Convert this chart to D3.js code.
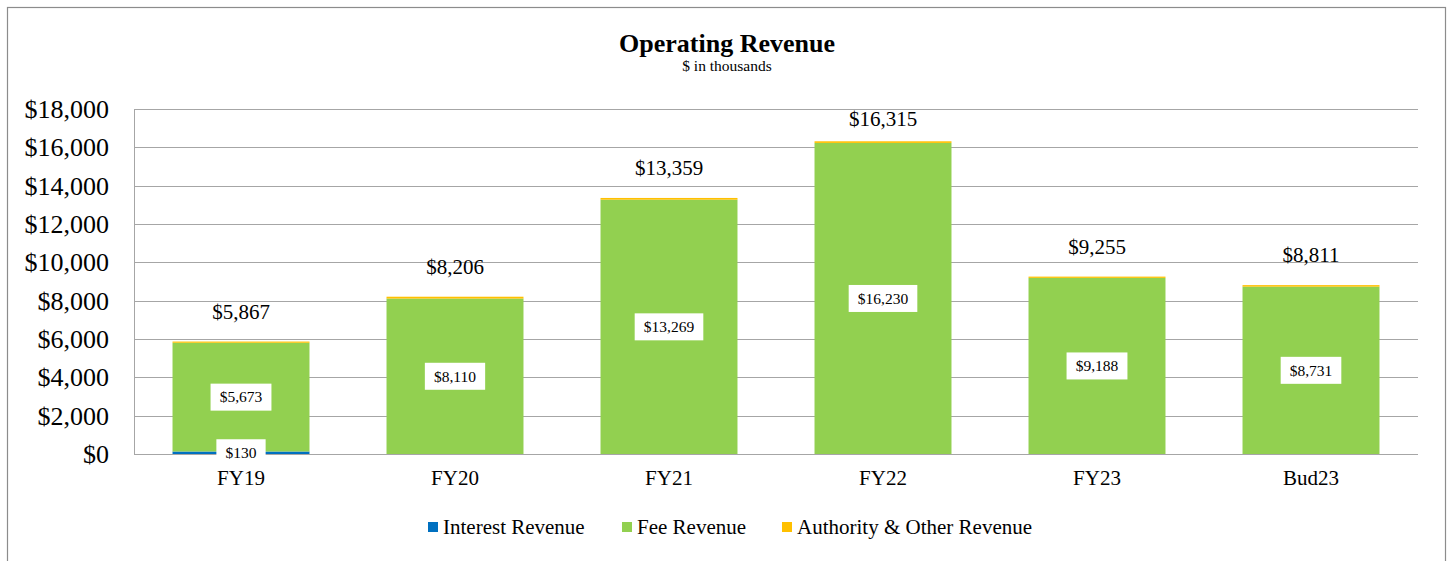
<!DOCTYPE html>
<html>
  <head>
    <meta charset="UTF-8" />
    <title>Operating Revenue</title>
    <script src="https://d3js.org/d3.v7.min.js"></script>
    <style>
      body { margin: 0; background: #fff; }
      text { font-family: 'Liberation Serif', 'Times New Roman', serif; fill: #000; }
      .grid line { stroke: #a6a6a6; stroke-width: 1px; }
    </style>
  </head>
  <body>
    <svg id="chart" width="1448" height="561"></svg>

    <script>
      // chart data ($ in thousands)
      var categories = ['FY19', 'FY20', 'FY21', 'FY22', 'FY23', 'Bud23'];
      var interestRevenue = [130, 0, 0, 0, 0, 0];
      var feeRevenue = [5673, 8110, 13269, 16230, 9188, 8731];
      var authorityRevenue = [64, 96, 90, 85, 67, 80];
      var totals = [5867, 8206, 13359, 16315, 9255, 8811];
      var yTicks = [0, 2000, 4000, 6000, 8000, 10000, 12000, 14000, 16000, 18000];

      var seriesNames = ['Interest Revenue', 'Fee Revenue', 'Authority & Other Revenue'];
      var seriesKeys = ['interest', 'fee', 'authority'];
      var colors = ['#0070c0', '#92d050', '#ffc000'];

      var rows = categories.map(function (c, i) {
        return { cat: c, interest: interestRevenue[i], fee: feeRevenue[i], authority: authorityRevenue[i], total: totals[i] };
      });

      var svg = d3.select('#chart');
      var plot = { left: 134, right: 1418, top: 109, bottom: 454 };

      // outer border
      svg.append('rect')
        .attr('x', 7.5).attr('y', 7.5)
        .attr('width', 1438).attr('height', 600)
        .attr('fill', 'none').attr('stroke', '#8c8c8c').attr('stroke-width', 1.2);

      // title
      svg.append('text').attr('x', 727).attr('y', 52)
        .attr('text-anchor', 'middle').style('font-size', '26px').style('font-weight', 'bold')
        .text('Operating Revenue');
      svg.append('text').attr('x', 727).attr('y', 71)
        .attr('text-anchor', 'middle').style('font-size', '15.5px')
        .text('$ in thousands');

      var x = d3.scaleBand()
        .domain(categories)
        .range([plot.left, plot.right])
        .paddingInner(0.36)
        .paddingOuter(0.18);

      var y = d3.scaleLinear().domain([0, 18000]).range([plot.bottom, plot.top]);

      // gridlines
      svg.append('g').attr('class', 'grid')
        .selectAll('line').data(yTicks).enter().append('line')
        .attr('x1', plot.left).attr('x2', plot.right)
        .attr('y1', function (d) { return Math.round(y(d)) + 0.5; })
        .attr('y2', function (d) { return Math.round(y(d)) + 0.5; });

      // y axis line
      svg.append('line')
        .attr('x1', plot.left + 0.5).attr('x2', plot.left + 0.5)
        .attr('y1', plot.top).attr('y2', plot.bottom)
        .attr('stroke', '#a6a6a6');

      // y tick labels
      svg.append('g').selectAll('text').data(yTicks).enter().append('text')
        .attr('x', plot.left - 25)
        .attr('y', function (d) { return y(d); })
        .attr('dy', '0.34em')
        .attr('text-anchor', 'end')
        .style('font-size', '26px')
        .text(function (d) { return d3.format('$,')(d); });

      // stacked bars
      var stack = d3.stack().keys(seriesKeys)(rows);
      svg.append('g').selectAll('g').data(stack).enter().append('g')
        .attr('fill', function (d, i) { return colors[i]; })
        .selectAll('rect').data(function (d) { return d; }).enter().append('rect')
        .attr('x', function (d) { return x(d.data.cat); })
        .attr('width', x.bandwidth())
        .attr('y', function (d) { return y(d[1]); })
        .attr('height', function (d) { return y(d[0]) - y(d[1]); });

      // bottom axis line over bars
      svg.append('line')
        .attr('x1', plot.left).attr('x2', plot.right)
        .attr('y1', plot.bottom + 0.5).attr('y2', plot.bottom + 0.5)
        .attr('stroke', '#a6a6a6');

      // x labels
      svg.append('g').selectAll('text').data(categories).enter().append('text')
        .attr('x', function (d) { return x(d) + x.bandwidth() / 2; })
        .attr('y', 485)
        .attr('text-anchor', 'middle')
        .style('font-size', '21px')
        .text(function (d) { return d; });

      // boxed segment labels (interest and fee)
      var fmt = d3.format('$,');
      var segLabels = [];
      stack.slice(0, 2).forEach(function (s) {
        s.forEach(function (d) {
          var v = d[1] - d[0];
          if (v > 0) segLabels.push({ cat: d.data.cat, v: v, mid: (d[0] + d[1]) / 2 });
        });
      });
      var lbl = svg.append('g').selectAll('g').data(segLabels).enter().append('g')
        .attr('transform', function (d) {
          return 'translate(' + (x(d.cat) + x.bandwidth() / 2) + ',' + y(d.mid) + ')';
        });
      lbl.append('text')
        .attr('text-anchor', 'middle').attr('dy', '0.34em')
        .style('font-size', '15.5px')
        .text(function (d) { return fmt(d.v); });
      lbl.each(function () {
        var g = d3.select(this);
        var bb = g.select('text').node().getBBox();
        g.insert('rect', 'text')
          .attr('x', -bb.width / 2 - 9).attr('y', -13.5)
          .attr('width', bb.width + 18).attr('height', 27)
          .attr('fill', '#fff');
      });

      // total labels above bars
      svg.append('g').selectAll('text').data(rows).enter().append('text')
        .attr('x', function (d) { return x(d.cat) + x.bandwidth() / 2; })
        .attr('y', function (d) { return Math.max(y(d.total) - 30, plot.top + 10); })
        .attr('dy', '0.34em')
        .attr('text-anchor', 'middle')
        .style('font-size', '21px')
        .text(function (d) { return fmt(d.total); });

      // legend
      var legendX = [428, 622, 782];
      var legend = svg.append('g').selectAll('g').data(seriesNames).enter().append('g')
        .attr('transform', function (d, i) { return 'translate(' + legendX[i] + ',527)'; });
      legend.append('rect')
        .attr('x', 0).attr('y', -5).attr('width', 10).attr('height', 10)
        .attr('fill', function (d, i) { return colors[i]; });
      legend.append('text')
        .attr('x', 15).attr('dy', '0.34em')
        .style('font-size', '21px')
        .text(function (d) { return d; });
    </script>
  </body>
</html>
